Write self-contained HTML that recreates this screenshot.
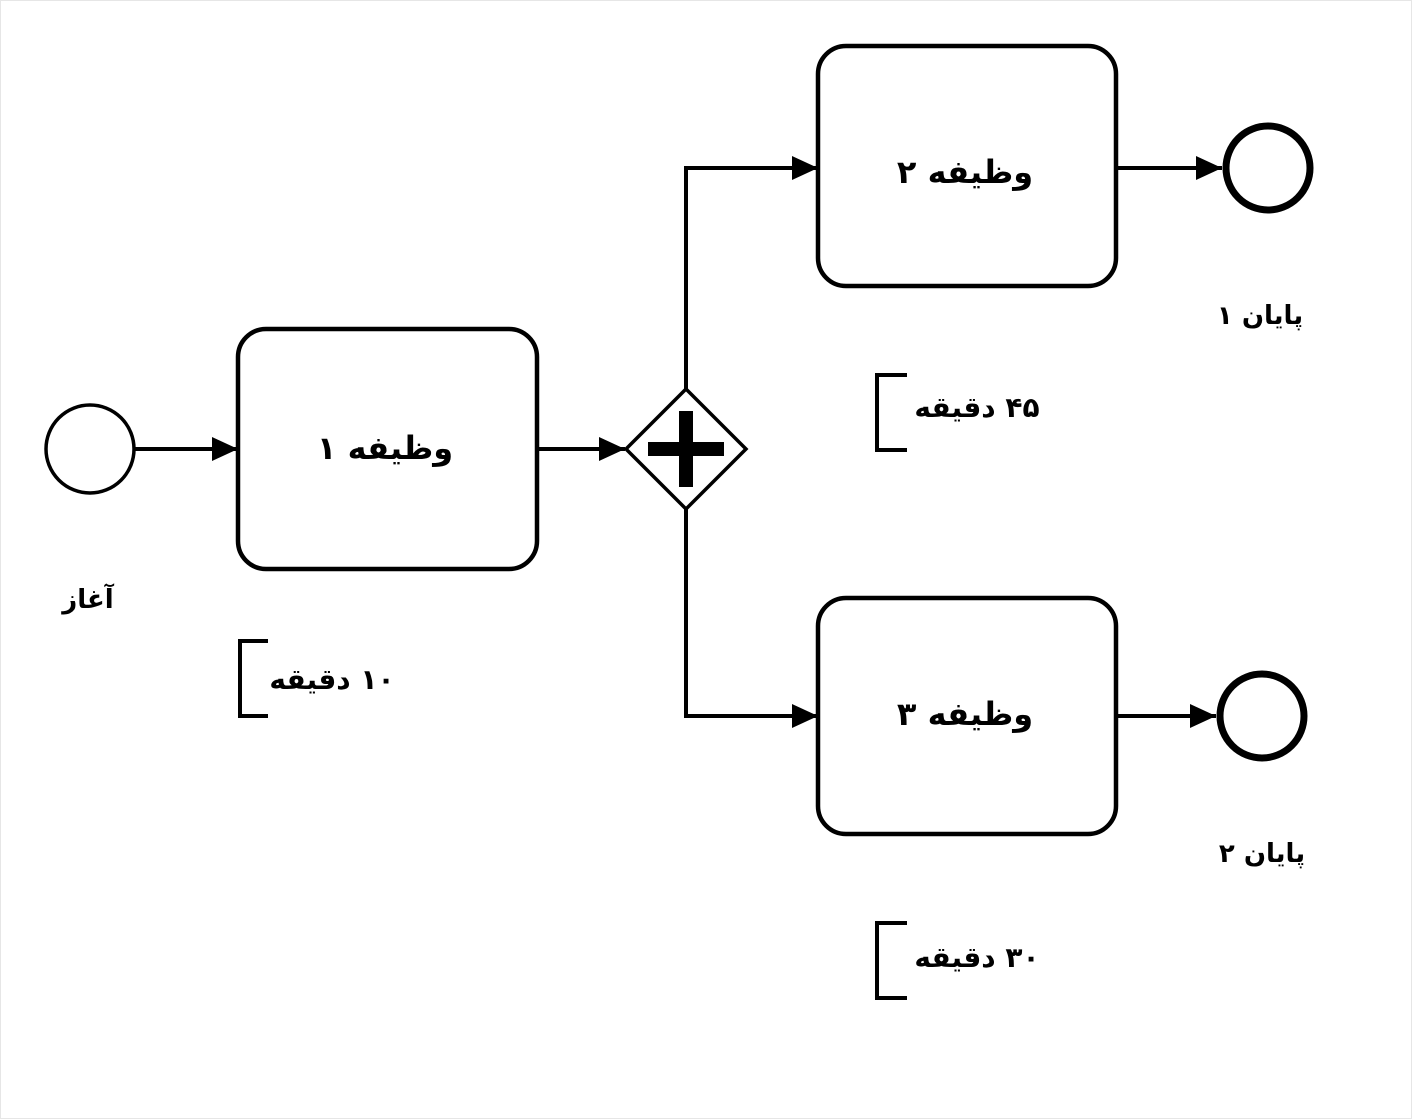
<!DOCTYPE html>
<html><head><meta charset="utf-8"><style>
html,body{margin:0;padding:0;background:#fff;}
svg{display:block;}
text{font-family:"DejaVu Sans","Liberation Sans",sans-serif;font-weight:bold;fill:#000;}
</style></head><body>
<svg width="1412" height="1119" viewBox="0 0 1412 1119" xmlns="http://www.w3.org/2000/svg">
<rect x="0.5" y="0.5" width="1411" height="1118" fill="#fff" stroke="#e6e6e6"/>
<g fill="none" stroke="#000" stroke-width="4.5">
<circle cx="90" cy="449" r="44" stroke-width="3.5"/>
<line x1="135" y1="449" x2="238" y2="449" stroke-width="4"/>
<path d="M212,437 L238,449 L212,461 z" fill="#000" stroke="none"/>
<rect x="238" y="329" width="299" height="240" rx="28"/>
<line x1="537" y1="449" x2="625" y2="449" stroke-width="4"/>
<path d="M599,437 L625,449 L599,461 z" fill="#000" stroke="none"/>
<path d="M686,389 L746,449 L686,509 L626,449 z" stroke-width="3.5"/>
<path d="M686,389 V168 H818" stroke-width="4"/>
<path d="M792,156 L818,168 L792,180 z" fill="#000" stroke="none"/>
<path d="M686,509 V716 H818" stroke-width="4"/>
<path d="M792,704 L818,716 L792,728 z" fill="#000" stroke="none"/>
<rect x="818" y="46" width="298" height="240" rx="28"/>
<rect x="818" y="598" width="298" height="236" rx="28"/>
<line x1="1116" y1="168" x2="1222" y2="168" stroke-width="4"/>
<path d="M1196,156 L1222,168 L1196,180 z" fill="#000" stroke="none"/>
<circle cx="1268" cy="168" r="42" stroke-width="7"/>
<line x1="1116" y1="716" x2="1216" y2="716" stroke-width="4"/>
<path d="M1190,704 L1216,716 L1190,728 z" fill="#000" stroke="none"/>
<circle cx="1262" cy="716" r="42" stroke-width="7"/>
<path d="M268,641 H240 V716 H268" stroke-width="4"/>
<path d="M907,375 H877 V450 H907" stroke-width="4"/>
<path d="M907,923 H877 V998 H907" stroke-width="4"/>
</g>
<rect x="679" y="411" width="14" height="76" fill="#000"/>
<rect x="648" y="442" width="76" height="14" fill="#000"/>
<g direction="rtl" text-anchor="middle">
<text x="385" y="459" font-size="32">وظیفه ۱</text>
<text x="965" y="183" font-size="32">وظیفه ۲</text>
<text x="965" y="725" font-size="32">وظیفه ۳</text>
<text x="88" y="608" font-size="26">آغاز</text>
<text x="1260" y="324" font-size="26">پایان ۱</text>
<text x="1262" y="862" font-size="26">پایان ۲</text>
<text x="332" y="689" font-size="28">۱۰ دقیقه</text>
<text x="977" y="417" font-size="28">۴۵ دقیقه</text>
<text x="977" y="967" font-size="28">۳۰ دقیقه</text>
</g>
</svg>
</body></html>
